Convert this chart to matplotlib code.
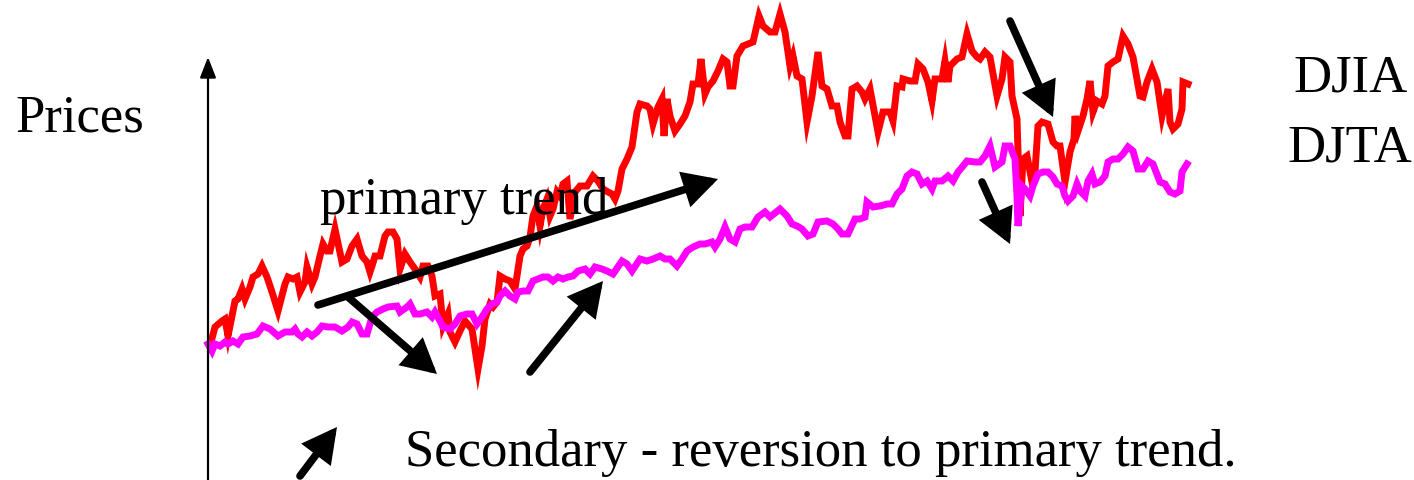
import matplotlib
matplotlib.use("Agg")
import matplotlib.pyplot as plt

# values (x = trading day position, y = price level)
djia_x = [211, 215, 222, 225, 228, 232, 235, 238, 242, 245, 250, 253, 258, 262, 267, 272, 278,
          285, 288, 293, 297, 300, 305, 307, 312, 315, 320, 323, 327, 330, 335, 342, 347, 352,
          357, 362, 367, 370, 372, 375, 380, 385, 388, 393, 397, 400, 405, 410, 415, 420, 423,
          428, 432, 435, 440, 443, 448, 450, 455, 460, 465, 472, 478, 482, 485, 490, 493, 497,
          500, 505, 510, 515, 520, 523, 527, 530, 533, 537, 540, 543, 547, 550, 553, 557, 560,
          563, 567, 570, 575, 580, 587, 593, 598, 603, 608, 612, 615, 618, 622, 627, 632, 635,
          637, 640, 647, 650, 653, 658, 662, 664, 667, 670, 675, 680, 685, 690, 693, 698, 701,
          705, 708, 713, 718, 723, 727, 730, 733, 737, 743, 748, 753, 759, 763, 770, 775, 780,
          785, 790, 793, 797, 802, 807, 812, 818, 822, 827, 832, 837, 840, 845, 848, 852, 857,
          862, 865, 870, 875, 878, 883, 890, 893, 897, 902, 903, 910, 915, 918, 923, 928, 932,
          935, 942, 945, 948, 950, 957, 962, 967, 972, 977, 980, 985, 990, 997, 1002, 1005,
          1010, 1012, 1017, 1018, 1020, 1023, 1027, 1032, 1035, 1038, 1042, 1048, 1053, 1057,
          1060, 1065, 1070, 1074, 1075, 1078, 1083, 1087, 1090, 1093, 1097, 1102, 1105, 1108,
          1113, 1118, 1123, 1128, 1133, 1140, 1143, 1147, 1152, 1157, 1162, 1168, 1170, 1173,
          1178, 1182, 1183, 1188]
djia_px = [343, 328, 322, 320, 337, 317, 302, 300, 290, 300, 288, 278, 275, 267, 278, 293, 312,
           285, 278, 280, 278, 293, 283, 268, 285, 278, 257, 245, 252, 252, 230, 263, 260, 247,
           240, 257, 263, 273, 267, 257, 257, 237, 233, 233, 240, 270, 255, 263, 270, 278, 267,
           267, 277, 297, 295, 327, 315, 333, 343, 332, 322, 330, 370, 347, 320, 305, 308, 303,
           277, 280, 282, 290, 257, 250, 247, 238, 217, 207, 227, 210, 200, 217, 210, 193, 197,
           185, 182, 220, 193, 187, 187, 177, 182, 190, 193, 195, 200, 192, 170, 160, 148, 127,
           113, 105, 107, 110, 125, 108, 100, 137, 100, 117, 132, 125, 117, 103, 85, 85, 60,
           95, 88, 82, 72, 60, 63, 87, 87, 57, 47, 45, 43, 17, 27, 33, 33, 15,
           33, 67, 57, 77, 80, 123, 97, 53, 87, 90, 107, 107, 123, 137, 137, 90, 87,
           93, 100, 90, 117, 133, 113, 113, 122, 87, 88, 80, 82, 82, 65, 70, 83, 102,
           80, 80, 62, 83, 67, 60, 58, 35, 52, 58, 60, 53, 58, 97, 80, 58,
           63, 97, 120, 153, 217, 160, 157, 183, 173, 127, 123, 125, 143, 147,
           147, 183, 153, 140, 117, 132, 117, 100, 82, 113, 102, 105, 97, 67,
           63, 60, 37, 45, 58, 97, 98, 83, 70, 83, 117, 90, 123, 130,
           125, 110, 83, 85]

djta_x = [208, 212, 215, 220, 225, 228, 233, 238, 243, 250, 257, 263, 270, 278, 285, 292, 295,
          298, 302, 307, 312, 317, 322, 328, 335, 342, 348, 352, 357, 362, 367, 372, 377, 383,
          388, 397, 400, 407, 410, 415, 420, 427, 432, 435, 440, 443, 450, 455, 460, 467, 472,
          477, 482, 487, 492, 497, 500, 505, 510, 515, 518, 523, 528, 533, 538, 543, 548, 553,
          558, 563, 568, 573, 578, 585, 590, 595, 602, 607, 613, 622, 627, 632, 640, 647, 653,
          660, 665, 670, 677, 682, 687, 693, 700, 705, 712, 715, 720, 725, 730, 735, 740, 745,
          752, 758, 765, 770, 780, 787, 792, 797, 802, 808, 813, 818, 827, 833, 838, 842, 848,
          855, 860, 865, 867, 873, 880, 887, 892, 897, 902, 907, 912, 917, 922, 927, 932, 935,
          942, 948, 953, 958, 963, 967, 975, 980, 985, 990, 995, 1002, 1005, 1010, 1015, 1017,
          1018, 1022, 1025, 1030, 1033, 1038, 1043, 1048, 1053, 1057, 1062, 1065, 1068, 1073,
          1077, 1080, 1085, 1088, 1092, 1095, 1100, 1105, 1108, 1113, 1118, 1123, 1128, 1133,
          1138, 1143, 1148, 1153, 1160, 1165, 1170, 1175, 1180, 1182, 1187]
djta_px = [345, 352, 345, 347, 343, 345, 342, 345, 338, 337, 335, 327, 330, 337, 333, 333, 330,
           335, 338, 333, 337, 333, 327, 328, 328, 332, 328, 323, 325, 335, 335, 318, 313, 310,
           308, 307, 313, 308, 305, 315, 315, 313, 318, 313, 322, 328, 330, 325, 317, 315, 315,
           325, 318, 310, 305, 303, 297, 292, 297, 300, 293, 292, 292, 282, 280, 278, 278, 282,
           278, 280, 278, 277, 272, 270, 275, 268, 270, 272, 275, 262, 265, 272, 260, 262, 260,
           257, 260, 260, 267, 260, 252, 248, 245, 245, 243, 248, 240, 228, 240, 243, 230, 228,
           228, 218, 213, 218, 210, 217, 225, 227, 230, 237, 235, 223, 222, 225, 230, 235, 235,
           220, 220, 218, 203, 208, 207, 205, 205, 195, 190, 177, 173, 175, 185, 182, 190, 182,
           182, 177, 182, 173, 167, 162, 163, 163, 157, 147, 168, 163, 147, 147, 160, 197,
           227, 187, 190, 197, 187, 175, 173, 173, 178, 185, 187, 197, 202, 197,
           185, 192, 197, 182, 175, 185, 183, 177, 163, 160, 160, 155, 148, 152,
           170, 170, 162, 165, 183, 185, 193, 195, 192, 173, 165]

H = 481
djia_y = [H - v for v in djia_px]
djta_y = [H - v for v in djta_px]

labels = ["DJIA", "DJTA"]

# arrows: (start x, start y, end x, end y)
arrows = [(318, 306, 718, 180),
          (348, 298, 437, 375),
          (530, 373, 603, 282),
          (1010, 22, 1053, 118),
          (982, 183, 1010, 245),
          (300, 477, 337, 428)]

fig = plt.figure(figsize=(14.14, 4.81), dpi=100)
ax = fig.add_axes([0, 0, 1, 1])
ax.set_xlim(0, 1414)
ax.set_ylim(0, H)
ax.axis('off')

ax.plot(djia_x, djia_y, color='#ff0000', lw=5, solid_joinstyle='miter', zorder=2)
ax.plot(djta_x, djta_y, color='#ff00ff', lw=5, solid_joinstyle='miter', zorder=3)

serif = ['Liberation Serif', 'DejaVu Serif']

# vertical price axis with arrow
ax.annotate('', xy=(208, H - 58), xytext=(208, -5),
            arrowprops=dict(arrowstyle='-|>,head_length=0.9,head_width=0.35', lw=1.6,
                            color='black', mutation_scale=14, shrinkA=0, shrinkB=0))
# time axis, almost all of it below the picture
ax.annotate('', xy=(1398, -6), xytext=(205, -6),
            arrowprops=dict(arrowstyle='-|>,head_length=0.9,head_width=0.45', lw=1.6,
                            color='black', mutation_scale=14, shrinkA=0, shrinkB=0))

for x0, y0, x1, y1 in arrows:
    ax.annotate('', xy=(x1, H - y1), xytext=(x0, H - y0),
                arrowprops=dict(arrowstyle='-|>,head_length=0.75,head_width=0.4', lw=5.5,
                                color='black', mutation_scale=22, shrinkA=0, shrinkB=0,
                                joinstyle='miter'), zorder=4)

ax.text(15, H - 131, "Prices", fontsize=38, family=serif, va='baseline')
ax.text(320, H - 214, "primary trend", fontsize=38, family=serif, va='baseline', zorder=5)
ax.text(405, H - 466, "Secondary - reversion to primary trend.", fontsize=38, family=serif,
        va='baseline')
ax.text(1408, H - 92, labels[0], fontsize=38, family=serif, va='baseline', ha='right')
ax.text(1412, H - 162, labels[1], fontsize=38, family=serif, va='baseline', ha='right')

fig.savefig("out.png", dpi=100)
